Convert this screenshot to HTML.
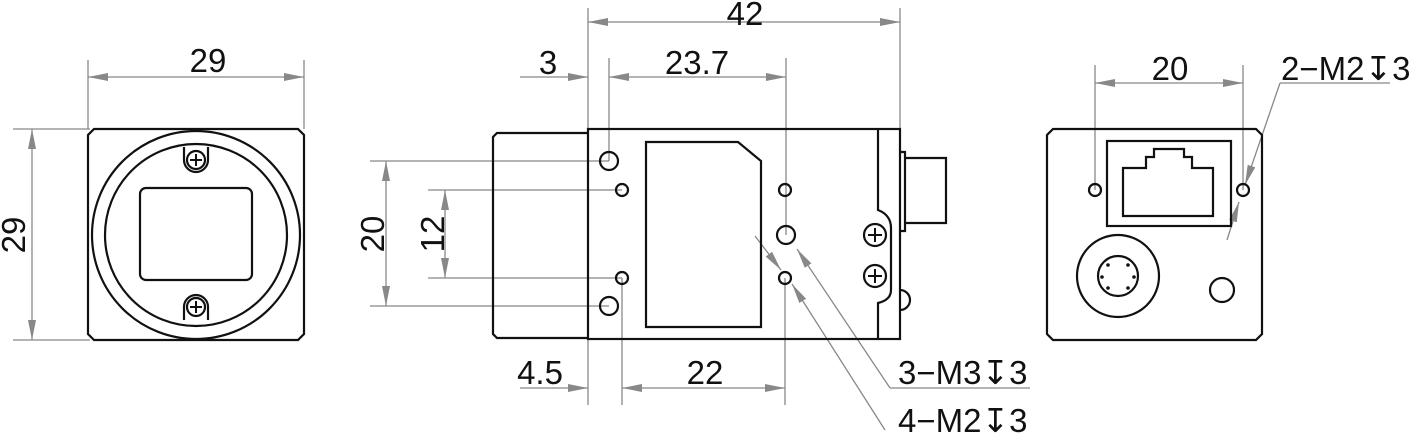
<!DOCTYPE html>
<html><head><style>body{margin:0;background:#fff}svg{display:block}text{font-family:"Liberation Sans","DejaVu Sans",sans-serif;font-size:33px;fill:#111}</style></head><body>
<svg width="1414" height="437" viewBox="0 0 1414 437" xmlns="http://www.w3.org/2000/svg">
<defs>
<marker id="a" viewBox="0 0 20 8" refX="20" refY="4" markerWidth="20" markerHeight="8" markerUnits="userSpaceOnUse" orient="auto-start-reverse"><path d="M0,0L20,4L0,8z" fill="#888"/></marker>
</defs>
<g stroke="#888" stroke-width="1.3" fill="none">
<path d="M88,60V129M304,60V129M13,129H90M13,340H90"/>
<path d="M88,77H304" marker-start="url(#a)" marker-end="url(#a)"/>
<path d="M32,129V340" marker-start="url(#a)" marker-end="url(#a)"/>
<path d="M588,8V128M900,8V128M609,58V161M786,58V235M370,161H609M370,306H609M428,190H622M428,278H622M588,340V405M622,278V405M785,278V405"/>
<path d="M588,22H900" marker-start="url(#a)" marker-end="url(#a)"/>
<path d="M520,77H588" marker-end="url(#a)"/>
<path d="M609,77H786" marker-start="url(#a)" marker-end="url(#a)"/>
<path d="M386,161V306" marker-start="url(#a)" marker-end="url(#a)"/>
<path d="M445,190V278" marker-start="url(#a)" marker-end="url(#a)"/>
<path d="M520,388H588" marker-end="url(#a)"/>
<path d="M622,388H785" marker-start="url(#a)" marker-end="url(#a)"/>
<path d="M890,388H1030"/>
<path d="M890,388L797,249" marker-end="url(#a)"/>
<path d="M885,430L792,284" marker-end="url(#a)"/>
<path d="M755,236L781,270" marker-end="url(#a)"/>
<path d="M1095,65V190M1243,65V190M1280,83H1390"/>
<path d="M1095,83H1243" marker-start="url(#a)" marker-end="url(#a)"/>
<path d="M1280,83L1245,185" marker-end="url(#a)"/>
<path d="M1227,240L1239,202" marker-end="url(#a)"/>
</g>
<g stroke="#111" stroke-width="2.2" fill="none">
<path d="M94,129H298L304,135V334L298,340H94L88,334V135Z"/>
<circle cx="196" cy="235" r="104"/>
<circle cx="196" cy="235" r="91"/>
<rect x="140" y="188" width="112" height="92" rx="6"/>
<path d="M184,147V160A12,12 0 0 0 208,160V147"/><circle cx="196" cy="160" r="9"/>
<path d="M184,320V307A12,12 0 0 1 208,307V320"/><circle cx="196" cy="307" r="9"/>
<path d="M588,133H497L493,137V334L497,338H588"/>
<rect x="588" y="129" width="312" height="210"/>
<path d="M646,142H738L761,161V327H646Z"/>
<circle cx="609" cy="161" r="9"/><circle cx="622" cy="190" r="6"/><circle cx="622" cy="278" r="6"/><circle cx="609" cy="306" r="9"/>
<circle cx="785" cy="190" r="6"/><circle cx="786" cy="235" r="9"/><circle cx="785" cy="278" r="6"/>
<path d="M878,129V210Q891,215 891,228V290Q891,300 878,303V339"/>
<circle cx="875" cy="235" r="11"/><circle cx="875" cy="276" r="11"/>
<path d="M900,152H905V231H900M905,158H946V223H905"/>
<path d="M900,290A10,10 0 0 1 900,310"/>
<path d="M1053,129H1256L1262,135V334L1256,340H1053L1047,334V135Z"/>
<rect x="1107" y="141" width="124" height="85"/>
<path d="M1123,216V168H1146V157H1154V149H1184V157H1192V168H1213V216Z"/>
<circle cx="1095" cy="190" r="6"/><circle cx="1243" cy="190" r="6"/>
<circle cx="1118" cy="276" r="41"/><circle cx="1118" cy="276" r="20"/>
<circle cx="1222" cy="290" r="12"/>
</g>
<g stroke="#111" stroke-width="2" fill="none">
<path d="M190,160h12M196,154v12M190,307h12M196,301v12M868,235h14M875,228v14M868,276h14M875,269v14"/>
</g>
<g fill="#111">
<circle cx="1108" cy="265" r="1.8"/><circle cx="1128" cy="265" r="1.8"/><circle cx="1102" cy="277" r="1.8"/><circle cx="1134" cy="277" r="1.8"/><circle cx="1108" cy="288" r="1.8"/><circle cx="1128" cy="288" r="1.8"/>
</g>
<text x="208" y="72" text-anchor="middle">29</text>
<text transform="translate(25,235) rotate(-90)" text-anchor="middle">29</text>
<text x="745" y="25" text-anchor="middle">42</text>
<text x="548" y="74" text-anchor="middle">3</text>
<text x="697" y="74" text-anchor="middle">23.7</text>
<text transform="translate(384,234) rotate(-90)" text-anchor="middle">20</text>
<text transform="translate(444,234) rotate(-90)" text-anchor="middle">12</text>
<text x="540" y="384" text-anchor="middle">4.5</text>
<text x="705" y="384" text-anchor="middle">22</text>
<text x="898" y="384">3−M3↧3</text>
<text x="898" y="432">4−M2↧3</text>
<text x="1170" y="80" text-anchor="middle">20</text>
<text x="1281" y="80">2−M2↧3</text>
</svg>
</body></html>
